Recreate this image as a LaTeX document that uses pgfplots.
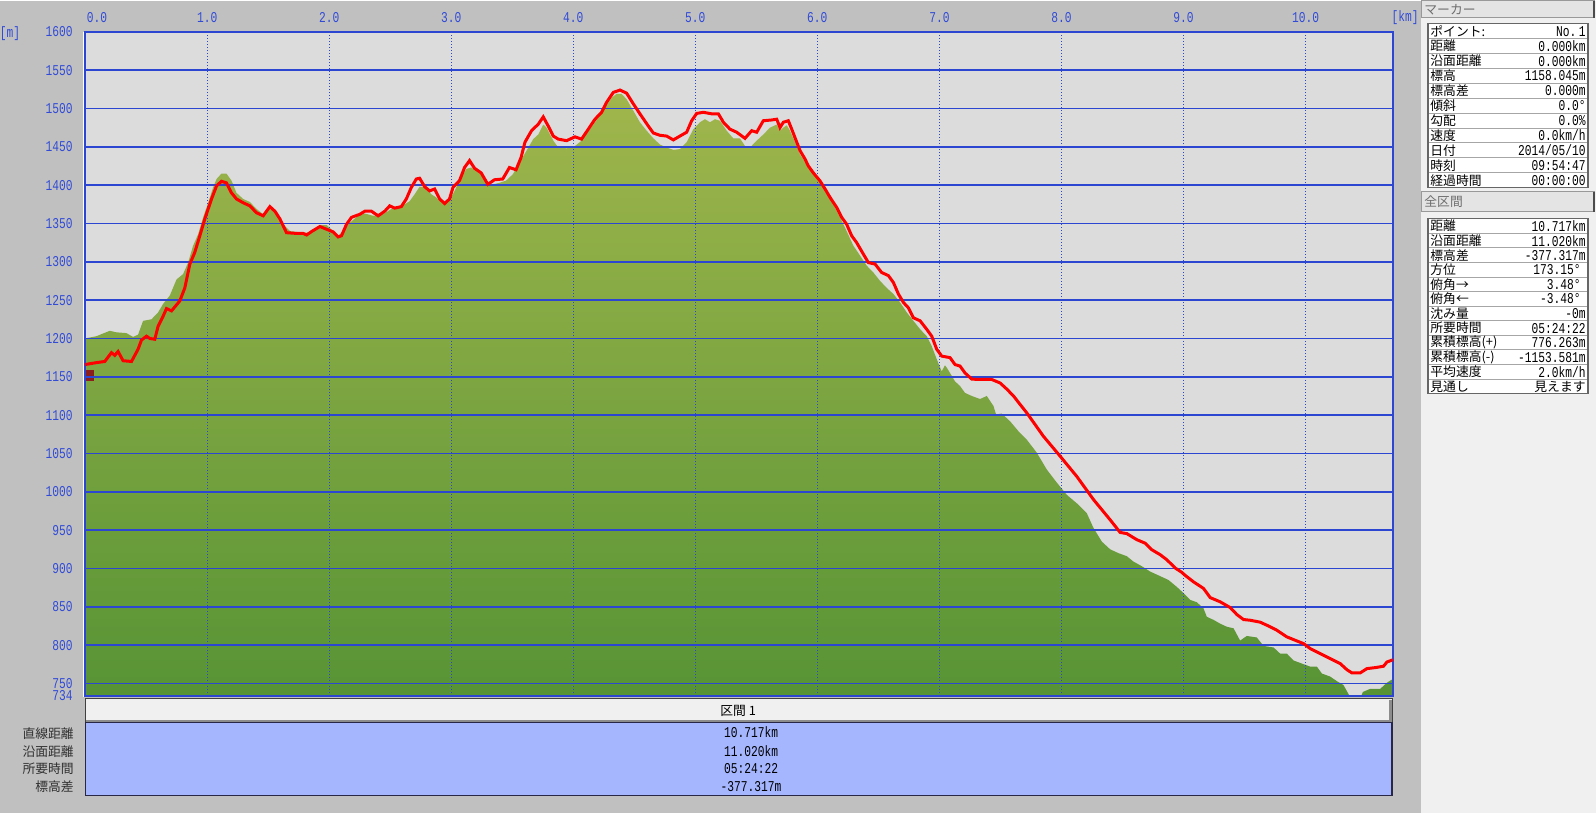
\documentclass[border=0pt]{standalone}
\usepackage{pgfplots}
\pgfplotsset{compat=1.18}
\usepackage{fontspec}
\setmainfont{Noto Sans CJK JP}
\newfontfamily\jp{Noto Sans CJK JP}
\newfontfamily\numfont[FakeStretch=0.75]{Liberation Mono}
\newcommand\ticksz{\fontsize{7.5pt}{8pt}\selectfont}
\newcommand\jpsz{\fontsize{6.4pt}{7pt}\selectfont}
\definecolor{outerbg}{RGB}{192,192,192}
\definecolor{panelbg}{RGB}{240,240,240}
\definecolor{plotbg}{RGB}{220,220,220}
\definecolor{gridblue}{RGB}{45,70,210}
\definecolor{tickblue}{RGB}{50,75,215}
\definecolor{terrtop}{RGB}{160,182,76}
\definecolor{terrbot}{RGB}{84,146,52}
\definecolor{tblblue}{RGB}{165,182,255}
\definecolor{hdrbg}{RGB}{240,240,240}
\definecolor{barbg}{RGB}{228,228,228}
\definecolor{bartext}{RGB}{110,110,110}
\definecolor{hiker}{RGB}{140,30,30}
\definecolor{lbltext}{RGB}{48,48,48}
\begin{document}
\begin{tikzpicture}
\fill[outerbg] (0pt,0pt) rectangle (798pt,-406pt);
\fill[panelbg] (710.5pt,0pt) rectangle (798pt,-406pt);
\begin{axis}[
  at={(42.5pt,-15.5pt)}, anchor=north west,
  width=654pt, height=332pt, scale only axis,
  xmin=0, xmax=10.717, ymin=734, ymax=1600,
  set layers, axis on top,
  axis line style={draw=gridblue, line width=1pt},
  xtick={1,2,...,10},
  xticklabels={1.0,2.0,3.0,4.0,5.0,6.0,7.0,8.0,9.0,10.0},
  extra x ticks={0}, extra x tick labels={0.0},
  extra x tick style={grid=none, xticklabel style={xshift=6pt}},
  xticklabel pos=upper,
  ytick={750,800,...,1600},
  yticklabels={750,800,850,900,950,1000,1050,1100,1150,1200,1250,1300,1350,1400,1450,1500,1550,1600},
  extra y ticks={734}, extra y tick labels={734},
  extra y tick style={grid=none},
  major tick length=0pt,
  grid=major,
  x grid style={gridblue, line width=0.5pt, dash pattern=on 0.5pt off 1pt},
  y grid style={gridblue, line width=0.75pt},
  tick label style={font=\ticksz\numfont, text=tickblue},
  xticklabel style={anchor=center, yshift=7pt},
  yticklabel style={anchor=east, inner sep=0pt, xshift=-6pt},
]
\fill[plotbg] (rel axis cs:0,0) rectangle (rel axis cs:1,1);
\addplot[draw=none, top color=terrtop, bottom color=terrbot] coordinates {
(0,700) (0,1200) (0.093,1203) (0.202,1210) (0.257,1208) (0.339,1207) (0.393,1202) (0.434,1205) (0.475,1223) (0.544,1225) (0.598,1234) (0.639,1245) (0.694,1256) (0.749,1277) (0.803,1284) (0.844,1299) (0.885,1321) (0.926,1336) (0.967,1358) (1.008,1377) (1.049,1397) (1.077,1408) (1.117,1415) (1.158,1415) (1.199,1406) (1.240,1390) (1.295,1382) (1.350,1378) (1.404,1369) (1.459,1362) (1.514,1373) (1.568,1366) (1.623,1349) (1.678,1340) (1.732,1339) (1.787,1338) (1.842,1338) (1.924,1348) (1.978,1348) (2.033,1340) (2.074,1334) (2.114,1340) (2.169,1351) (2.237,1360) (2.292,1363) (2.360,1360) (2.441,1362) (2.510,1369) (2.578,1371) (2.659,1379) (2.700,1388) (2.741,1398) (2.782,1397) (2.837,1388) (2.877,1384) (2.932,1376) (2.973,1379) (3.014,1388) (3.068,1406) (3.123,1421) (3.163,1423) (3.204,1419) (3.259,1412) (3.300,1399) (3.341,1401) (3.395,1403) (3.450,1406) (3.504,1414) (3.559,1429) (3.617,1445) (3.672,1460) (3.713,1466) (3.754,1479) (3.781,1475) (3.836,1458) (3.877,1449) (3.945,1448) (4.014,1451) (4.068,1458) (4.137,1473) (4.205,1488) (4.260,1501) (4.314,1514) (4.355,1519) (4.396,1519) (4.437,1512) (4.492,1497) (4.546,1482) (4.601,1471) (4.656,1461) (4.710,1453) (4.765,1449) (4.820,1446) (4.874,1447) (4.929,1456) (4.984,1473) (5.038,1482) (5.079,1486) (5.120,1482) (5.161,1486) (5.202,1484) (5.257,1471) (5.311,1461) (5.366,1461) (5.407,1451) (5.448,1449) (5.503,1458) (5.557,1466) (5.612,1475) (5.667,1479) (5.694,1471) (5.721,1475) (5.749,1478) (5.776,1471) (5.817,1456) (5.858,1440) (5.913,1427) (5.967,1416) (6.022,1403) (6.077,1390) (6.131,1375) (6.186,1358) (6.240,1340) (6.295,1321) (6.350,1308) (6.404,1295) (6.459,1286) (6.514,1275) (6.568,1266) (6.623,1258) (6.678,1247) (6.732,1234) (6.787,1223) (6.842,1212) (6.896,1203) (6.937,1190) (6.978,1173) (7.019,1157) (7.045,1165) (7.060,1162) (7.087,1155) (7.128,1144) (7.169,1138) (7.210,1129) (7.265,1125) (7.333,1121) (7.388,1125) (7.443,1112) (7.464,1101) (7.511,1102) (7.579,1092) (7.648,1079) (7.716,1068) (7.798,1051) (7.880,1029) (7.962,1012) (8.044,996) (8.126,985) (8.208,972) (8.262,953) (8.331,935) (8.399,925) (8.467,920) (8.536,916) (8.590,909) (8.658,903) (8.727,896) (8.809,890) (8.877,885) (8.945,876) (9.0,868) (9.055,859) (9.109,856) (9.164,848) (9.191,837) (9.246,833) (9.301,828) (9.355,824) (9.410,822) (9.464,806) (9.519,812) (9.601,810) (9.656,799) (9.738,797) (9.792,789) (9.847,789) (9.902,780) (9.970,776) (10.038,772) (10.093,772) (10.134,763) (10.202,759) (10.257,753) (10.311,748) (10.370,731) (10.450,731) (10.470,739) (10.530,743) (10.612,743) (10.667,751) (10.717,756) (10.717,700)
} -- cycle;
\addplot[red, line width=1.5pt, on layer=axis foreground] coordinates {
(0,1166) (0.093,1168.5) (0.161,1170) (0.216,1181.5) (0.243,1178) (0.270,1183) (0.311,1171) (0.380,1170) (0.434,1186) (0.462,1198) (0.503,1203) (0.530,1200) (0.571,1199) (0.598,1216) (0.639,1229) (0.667,1239) (0.708,1236) (0.776,1249) (0.817,1266) (0.858,1297) (0.898,1312) (0.940,1334) (0.981,1356) (1.036,1382) (1.077,1399) (1.117,1405) (1.158,1403) (1.199,1390) (1.240,1382) (1.295,1377) (1.350,1373) (1.404,1364) (1.459,1360) (1.514,1372) (1.555,1366) (1.596,1356) (1.650,1338) (1.732,1337) (1.787,1337) (1.815,1335) (1.856,1339.5) (1.924,1346) (1.978,1342.5) (2.033,1339) (2.074,1332.5) (2.101,1334) (2.142,1349) (2.183,1358) (2.251,1362) (2.292,1366) (2.346,1366) (2.401,1360) (2.455,1366) (2.496,1373) (2.537,1370) (2.591,1372) (2.632,1382) (2.673,1397) (2.714,1408) (2.741,1409) (2.782,1398) (2.823,1392.5) (2.864,1395) (2.905,1382) (2.946,1376) (2.986,1382) (3.014,1397) (3.068,1406) (3.109,1423) (3.150,1432) (3.191,1422) (3.245,1416) (3.300,1401) (3.354,1407) (3.422,1408) (3.477,1423) (3.531,1420) (3.572,1436) (3.604,1456) (3.658,1471) (3.713,1479.5) (3.754,1489) (3.795,1477) (3.836,1464) (3.877,1460) (3.945,1458) (4.014,1463) (4.068,1460) (4.123,1473) (4.178,1486) (4.232,1495) (4.273,1508) (4.328,1521) (4.383,1524) (4.437,1520) (4.492,1506) (4.546,1493) (4.615,1477) (4.656,1468) (4.710,1465) (4.765,1464) (4.820,1459) (4.874,1464) (4.929,1469) (4.970,1484) (5.011,1493.5) (5.066,1495) (5.134,1493) (5.189,1493) (5.230,1482) (5.284,1473) (5.339,1469) (5.407,1461) (5.462,1471) (5.503,1469) (5.557,1484) (5.626,1485) (5.667,1486) (5.694,1475) (5.721,1482) (5.762,1484) (5.790,1473) (5.831,1456) (5.858,1445) (5.899,1434) (5.926,1425) (5.967,1416) (6.022,1405.5) (6.063,1395) (6.104,1384) (6.158,1371) (6.199,1358) (6.240,1349) (6.281,1334) (6.322,1325) (6.377,1310) (6.418,1299) (6.473,1297) (6.527,1286) (6.582,1282) (6.623,1273) (6.664,1258) (6.705,1247) (6.746,1240) (6.787,1227) (6.842,1223) (6.896,1212) (6.937,1203) (6.978,1186) (7.019,1177) (7.087,1175) (7.128,1166) (7.169,1164) (7.210,1155) (7.265,1147) (7.333,1146.5) (7.429,1146.5) (7.497,1142) (7.552,1134) (7.607,1125) (7.661,1114) (7.716,1103) (7.852,1072.5) (7.989,1046.5) (8.126,1020) (8.262,990) (8.399,963.5) (8.481,947) (8.536,945.5) (8.617,937.6) (8.686,933) (8.740,924.5) (8.809,918) (8.863,911.5) (8.932,900.6) (8.986,895) (9.014,891) (9.082,882.6) (9.164,874) (9.219,862) (9.301,856.5) (9.383,849) (9.437,840) (9.492,833.4) (9.546,832.5) (9.628,830) (9.683,826) (9.765,819.5) (9.847,810.8) (9.915,806.4) (9.984,802) (10.038,795.6) (10.120,789) (10.202,782.5) (10.284,776) (10.339,768) (10.380,763.8) (10.448,763.8) (10.503,769.4) (10.571,770.7) (10.639,772.5) (10.667,778) (10.717,781)
};
\addplot[only marks, mark=square*, mark size=2.5pt, color=hiker, on layer=axis foreground] coordinates {(0.03,1152)};
\end{axis}
\begin{scope}[x=0.5pt, y=-0.5pt, every node/.style={inner sep=0pt}]
\draw[white, line width=0.6pt] (83.5,31) -- (83.5,696);
% axis unit labels
\node[text=tickblue, font=\ticksz\numfont] at (10,33) {[m]};
\node[text=tickblue, font=\ticksz\numfont] at (1405,17) {[km]};
% bottom table
\filldraw[fill=hdrbg, draw=black!75, line width=0.5pt] (85,698) rectangle (1392,722);
\draw[black!45, line width=1.2pt] (86,720.5) -- (1391,720.5);
\draw[black!45, line width=1.2pt] (1390.5,699) -- (1390.5,721);
\filldraw[fill=tblblue, draw={rgb,255:red,40;green,40;blue,70}, line width=0.6pt] (85,722) rectangle (1392,795);
\node[font=\jpsz\jp] at (738,710.5) {区間 1};
\node[font=\ticksz\numfont] at (751,731) {10.717km};
\node[font=\ticksz\numfont] at (751,750) {11.020km};
\node[font=\ticksz\numfont] at (751,768) {05:24:22};
\node[font=\ticksz\numfont] at (751,786) {-377.317m};
\node[anchor=east, font=\jpsz\jp, text=lbltext] at (74,733) {直線距離};
\node[anchor=east, font=\jpsz\jp, text=lbltext] at (74,750.5) {沿面距離};
\node[anchor=east, font=\jpsz\jp, text=lbltext] at (74,768) {所要時間};
\node[anchor=east, font=\jpsz\jp, text=lbltext] at (74,786) {標高差};
% right panel: marker
\filldraw[fill=barbg, draw=black!40, line width=0.5pt] (1421.5,0) rectangle (1594,17);
\draw[black!70, line width=0.8pt] (1594,0) -- (1594,17);
\node[anchor=west, font=\jpsz\jp, text=bartext] at (1424,8.5) {マーカー};
\newcommand\prow[4]{%
  \filldraw[fill=white, draw=black!35, line width=0.5pt] (1428,#1) rectangle (1588,#1+#2);
  \node[anchor=west, font=\jpsz\jp] at (1430,#1+0.5*#2) {#3};
  \node[anchor=east, font=\ticksz\numfont] at (1586,#1+0.5*#2) {#4};}
\prow{23}{14.9}{ポイント:}{No.\,1}
\prow{37.9}{14.9}{距離}{0.000km}
\prow{52.8}{14.9}{沿面距離}{0.000km}
\prow{67.7}{14.9}{標高}{1158.045m}
\prow{82.6}{14.9}{標高差}{0.000m}
\prow{97.5}{14.9}{傾斜}{0.0°}
\prow{112.4}{14.9}{勾配}{0.0\%}
\prow{127.3}{14.9}{速度}{0.0km/h}
\prow{142.2}{14.9}{日付}{2014/05/10}
\prow{157.1}{14.9}{時刻}{09:54:47}
\prow{172.0}{14.9}{経過時間}{00:00:00}
\draw[black!60, line width=0.6pt] (1428,23) rectangle (1588,186.9);
% right panel: whole section
\filldraw[fill=barbg, draw=black!40, line width=0.5pt] (1421.5,191) rectangle (1594,211);
\draw[black!70, line width=0.8pt] (1594,191) -- (1594,211);
\node[anchor=west, font=\jpsz\jp, text=bartext] at (1424,201) {全区間};
\prow{218}{14.58}{距離}{10.717km}
\prow{232.58}{14.58}{沿面距離}{11.020km}
\prow{247.16}{14.58}{標高差}{-377.317m}
\prow{261.74}{14.58}{方位}{173.15°\,\,}
\prow{276.32}{14.58}{俯角→}{3.48°\,\,}
\prow{290.9}{14.58}{俯角←}{-3.48°\,\,}
\prow{305.48}{14.58}{沈み量}{-0m}
\prow{320.06}{14.58}{所要時間}{05:24:22}
\prow{334.64}{14.58}{累積標高(+)}{776.263m}
\prow{349.22}{14.58}{累積標高(-)}{-1153.581m}
\prow{363.8}{14.58}{平均速度}{2.0km/h}
\prow{378.38}{14.58}{見通し}{\jpsz\jp 見えます}
\draw[black!60, line width=0.6pt] (1428,218) rectangle (1588,393);
\end{scope}
\end{tikzpicture}
\end{document}
